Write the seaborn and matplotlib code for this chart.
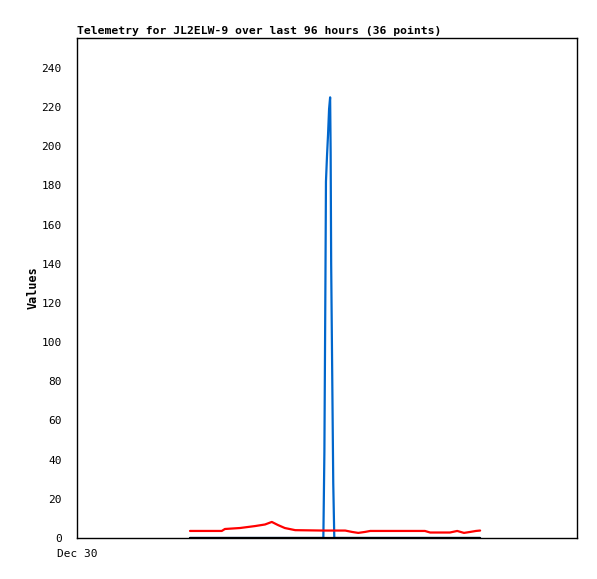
import pandas as pd
import matplotlib
matplotlib.use("Agg")
import matplotlib.pyplot as plt
import seaborn as sns

# hours after Dec 30 00:00
hours = [21.7, 27.8, 28.4, 31.3, 34.2, 36.1, 37.4, 38.6, 39.9, 41.9,
         47.3, 47.5, 47.7, 47.8, 48.0, 48.2, 48.4, 48.6, 48.7, 48.8, 49.0, 49.2, 49.4,
         51.5, 52.8, 54.0, 55.3, 56.3, 66.8, 67.8, 71.6, 73.0, 74.3, 75.5, 76.6, 77.4]

blue_vals = [0, 0, 0, 0, 0, 0, 0, 0, 0, 0,
             0, 44, 132, 182, 195, 206, 219, 225, 197, 140, 84, 28, 0,
             0, 0, 0, 0, 0, 0, 0, 0, 0, 0, 0, 0, 0]
red_vals = [3.6, 3.6, 4.6, 5.1, 6.1, 6.9, 8.2, 6.6, 5.1, 4.0,
            3.8, 3.8, 3.8, 3.8, 3.8, 3.8, 3.8, 3.8, 3.8, 3.8, 3.8, 3.8, 3.8,
            3.8, 3.1, 2.6, 3.1, 3.6, 3.6, 2.8, 2.8, 3.6, 2.6, 3.1, 3.6, 3.8]
black_vals = [0] * len(hours)

y_ticks = list(range(0, 241, 20))
x_tick_labels = ["Dec 30"]

df = pd.concat([
    pd.DataFrame({"t": hours, "v": blue_vals, "s": "blue"}),
    pd.DataFrame({"t": hours, "v": red_vals, "s": "red"}),
    pd.DataFrame({"t": hours, "v": black_vals, "s": "black"}),
])

sns.set_style("white")
plt.rcParams["font.family"] = ["DejaVu Sans Mono"]
plt.rcParams["text.color"] = "black"
plt.rcParams["axes.labelcolor"] = "black"
plt.rcParams["xtick.color"] = "black"
plt.rcParams["ytick.color"] = "black"

fig = plt.figure(figsize=(5.97, 5.79), dpi=100)
ax = fig.add_axes([77 / 597, 41 / 579, 500 / 597, 500 / 579])

sns.lineplot(data=df, x="t", y="v", hue="s", hue_order=["blue", "red", "black"],
             palette={"blue": "#0066cc", "red": "#ff0000", "black": "#000000"},
             linewidth=1.6, legend=False, ax=ax, sort=False, estimator=None)

ax.set_xlim(0, 96)
ax.set_ylim(0, 255.3)
ax.set_yticks(y_ticks)
ax.set_yticklabels([str(v) for v in y_ticks], fontsize=8)
ax.set_xticks([0])
ax.set_xticklabels(x_tick_labels, fontsize=8)
ax.tick_params(direction="out", length=6, width=1, color="black", labelcolor="black", pad=5)
ax.tick_params(axis="x", pad=2)
ax.set_xlabel("")
ax.set_ylabel("Values", fontsize=8.5, fontweight="bold", labelpad=1, color="black")
ax.set_title("Telemetry for JL2ELW-9 over last 96 hours (36 points)",
             loc="left", fontsize=8.2, fontweight="bold", pad=3, color="black")
for sp in ax.spines.values():
    sp.set_color("black")
    sp.set_linewidth(1)

fig.savefig("out.png", dpi=100)
